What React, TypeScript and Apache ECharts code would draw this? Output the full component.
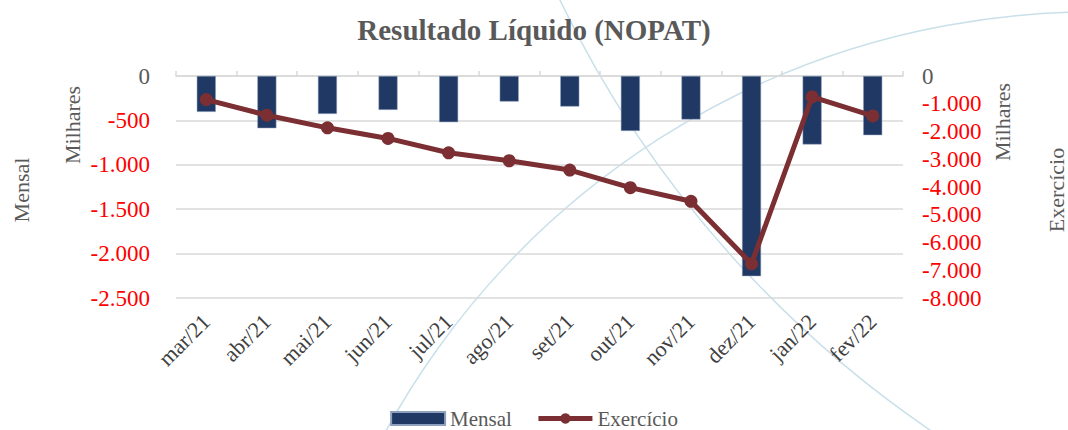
import React, { useEffect, useRef } from "react";
import * as echarts from "echarts";

const categories = ["mar/21", "abr/21", "mai/21", "jun/21", "jul/21", "ago/21", "set/21", "out/21", "nov/21", "dez/21", "jan/22", "fev/22"];
const mensal = [-404, -588, -427, -382, -520, -288, -344, -618, -490, -2254, -771, -666];
const exercicio = [-849, -1413, -1868, -2250, -2766, -3054, -3389, -4024, -4514, -6766, -754, -1437];
const leftTicks = { min: -2500, max: 0, interval: 500 };
const rightTicks = { min: -8000, max: 0, interval: 1000 };

const FONT = "Liberation Serif";
const GRAY = "#595959";
const RED = "#FF0000";
const CURVE = "#c9e0ea";
const LINE = "#7b2f32";

function fmt(v: number): string {
  if (v === 0) return "0";
  const s = Math.abs(v).toString().replace(/\B(?=(\d{3})+(?!\d))/g, ".");
  return (v < 0 ? "-" : "") + s;
}
function labelFmt(v: number): string {
  return v === 0 ? "{g|0}" : "{r|" + fmt(v) + "}";
}

export default function App() {
  const ref = useRef<HTMLDivElement>(null);
  useEffect(() => {
    document.body.style.margin = "0";
    const chart = echarts.init(ref.current!, null, { renderer: "svg" });
    const rich = {
      g: { color: GRAY, fontSize: 23, fontFamily: FONT },
      r: { color: RED, fontSize: 23, fontFamily: FONT },
    };
    chart.setOption({
      animation: false,
      backgroundColor: "#ffffff",
      textStyle: { fontFamily: FONT },
      title: {
        text: "Resultado Líquido (NOPAT)",
        left: "center",
        top: 10,
        textStyle: { fontFamily: FONT, fontSize: 29, fontWeight: "bold", color: GRAY },
      },
      legend: {
        top: 403,
        left: "center",
        itemGap: 24,
        itemWidth: 54,
        itemHeight: 13,
        textStyle: { fontFamily: FONT, fontSize: 21, color: GRAY },
        data: [
          { name: "Mensal", icon: "rect" },
          { name: "Exercício", lineStyle: { width: 5 } },
        ],
      },
      grid: { left: 176, right: 165, top: 76, bottom: 132, containLabel: false },
      xAxis: [
        {
          type: "category",
          data: categories,
          position: "top",
          axisLine: { show: true, onZero: false, lineStyle: { color: "#d9d9d9", width: 1.5 } },
          axisTick: { show: true, length: 5, lineStyle: { color: "#d9d9d9", width: 1.5 } },
          axisLabel: { show: false },
          splitLine: { show: false },
        },
        {
          type: "category",
          data: categories,
          position: "bottom",
          axisLine: { show: false, onZero: false },
          axisTick: { show: false },
          axisLabel: { rotate: 45, margin: 20, fontSize: 22, color: "#404040", fontFamily: FONT },
        },
      ],
      yAxis: [
        {
          type: "value",
          ...leftTicks,
          position: "left",
          axisLine: { show: false },
          axisTick: { show: false },
          splitLine: { show: true, lineStyle: { color: "#d9d9d9", width: 1.5 } },
          axisLabel: { formatter: labelFmt, rich, margin: 26 },
        },
        {
          type: "value",
          ...rightTicks,
          position: "right",
          axisLine: { show: false },
          axisTick: { show: false },
          splitLine: { show: false },
          axisLabel: { formatter: labelFmt, rich, margin: 19 },
        },
      ],
      graphic: [
        {
          type: "arc",
          z: -10,
          silent: true,
          shape: { cx: 1093, cy: 818, r: 806, startAngle: (-165 * Math.PI) / 180, endAngle: (-80 * Math.PI) / 180, clockwise: true },
          style: { stroke: CURVE, lineWidth: 1.5, fill: "none" },
        },
        {
          type: "arc",
          z: -10,
          silent: true,
          shape: { cx: 1549, cy: -477, r: 1098, startAngle: (115 * Math.PI) / 180, endAngle: (160 * Math.PI) / 180, clockwise: true },
          style: { stroke: CURVE, lineWidth: 1.5, fill: "none" },
        },
        {
          type: "text",
          x: 21,
          y: 190,
          rotation: Math.PI / 2,
          style: { text: "Mensal", fill: GRAY, font: `22px "${FONT}"`, align: "center", verticalAlign: "middle" },
        },
        {
          type: "text",
          x: 72,
          y: 125,
          rotation: Math.PI / 2,
          style: { text: "Milhares", fill: GRAY, font: `22px "${FONT}"`, align: "center", verticalAlign: "middle" },
        },
        {
          type: "text",
          x: 1002,
          y: 122,
          rotation: Math.PI / 2,
          style: { text: "Milhares", fill: GRAY, font: `22px "${FONT}"`, align: "center", verticalAlign: "middle" },
        },
        {
          type: "text",
          x: 1056,
          y: 190,
          rotation: Math.PI / 2,
          style: { text: "Exercício", fill: GRAY, font: `22px "${FONT}"`, align: "center", verticalAlign: "middle" },
        },
      ],
      series: [
        {
          name: "Mensal",
          type: "bar",
          xAxisIndex: 0,
          yAxisIndex: 0,
          data: mensal,
          barWidth: 19,
          itemStyle: { color: "#203864", borderColor: "#8ea0bd", borderWidth: 0.5 },
          z: 2,
        },
        {
          name: "Exercício",
          type: "line",
          xAxisIndex: 0,
          yAxisIndex: 1,
          data: exercicio,
          symbol: "circle",
          symbolSize: 13,
          lineStyle: { color: LINE, width: 5 },
          itemStyle: { color: LINE },
          z: 3,
        },
      ],
    });
    return () => chart.dispose();
  }, []);
  return <div ref={ref} style={{ position: "fixed", left: 0, top: 0, width: 1068, height: 430 }} />;
}
